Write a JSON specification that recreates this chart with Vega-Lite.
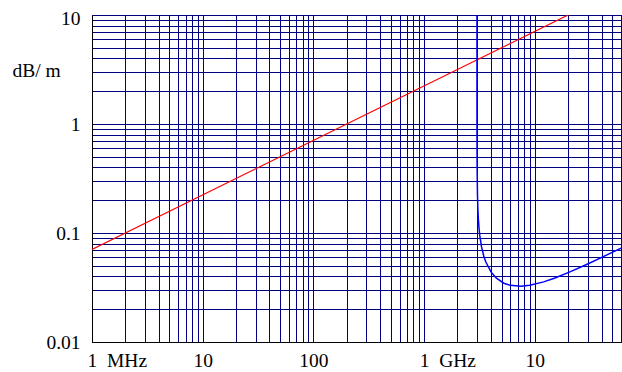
{
  "$schema": "https://vega.github.io/schema/vega-lite/v6.json",
  "width": 529,
  "height": 327,
  "autosize": "none",
  "padding": {"left": 92, "top": 15, "right": 1, "bottom": 30},
  "background": "white",
  "config": {"view": {"stroke": "black", "strokeWidth": 1}, "font": "Times New Roman, Liberation Serif, Times, serif"},
  "datasets": {
    "red": [
      {"f": 1000000, "a": 0.0707},
      {"f": 20000000000, "a": 10}
    ],
    "blue": [
      {"f": 3000000000, "a": 10},
      {"f": 3000090000, "a": 4.18},
      {"f": 3000300000, "a": 2.29},
      {"f": 3000900000, "a": 1.32},
      {"f": 3003000000, "a": 0.724},
      {"f": 3009000000, "a": 0.418},
      {"f": 3030000000, "a": 0.23},
      {"f": 3060000000, "a": 0.163},
      {"f": 3090000000, "a": 0.133},
      {"f": 3135000000, "a": 0.109},
      {"f": 3180000000, "a": 0.095},
      {"f": 3300000000, "a": 0.0745},
      {"f": 3450000000, "a": 0.0618},
      {"f": 3600000000, "a": 0.0544},
      {"f": 4050000000, "a": 0.0434},
      {"f": 4500000000, "a": 0.0385},
      {"f": 5250000000, "a": 0.0346},
      {"f": 6000000000, "a": 0.0331},
      {"f": 7500000000, "a": 0.0324},
      {"f": 9000000000, "a": 0.0331},
      {"f": 12000000000, "a": 0.0356},
      {"f": 15000000000, "a": 0.0385},
      {"f": 21000000000, "a": 0.0442},
      {"f": 30000000000, "a": 0.052},
      {"f": 42000000000, "a": 0.0611},
      {"f": 60000000000, "a": 0.0727}
    ]
  },
  "layer": [
    {
      "data": {"name": "red"},
      "mark": {"type": "line", "color": "#ff0000", "strokeWidth": 1.2, "clip": true},
      "encoding": {
        "x": {
          "field": "f",
          "type": "quantitative",
          "scale": {"type": "log", "domain": [1000000, 60000000000], "nice": false},
          "axis": {
            "title": null,
            "values": [1e6, 2e6, 3e6, 4e6, 5e6, 6e6, 7e6, 8e6, 9e6,
                       1e7, 2e7, 3e7, 4e7, 5e7, 6e7, 7e7, 8e7, 9e7,
                       1e8, 2e8, 3e8, 4e8, 5e8, 6e8, 7e8, 8e8, 9e8,
                       1e9, 2e9, 3e9, 4e9, 5e9, 6e9, 7e9, 8e9, 9e9,
                       1e10, 2e10, 3e10, 4e10, 5e10, 6e10],
            "grid": true,
            "gridColor": "#000080",
            "gridWidth": 1,
            "gridOpacity": 1,
            "ticks": false,
            "tickSize": 0,
            "domainColor": "black",
            "domainWidth": 1,
            "labelFont": "Times New Roman, Liberation Serif, Times, serif",
            "labelFontSize": 19.5,
            "labelColor": "black",
            "labelPadding": 9,
            "labelFlush": false,
            "labelOverlap": false,
            "labelBaseline": "top",
            "labelAlign": {"condition": {"test": "datum.value == 1e6 || datum.value == 1e9", "value": "left"}, "value": "center"},
            "labelOffset": {"condition": {"test": "datum.value == 1e6 || datum.value == 1e9", "value": -5}, "value": 0},
            "labelExpr": "datum.value == 1e6 ? '1\u00a0\u00a0MHz' : datum.value == 1e7 ? '10' : datum.value == 1e8 ? '100' : datum.value == 1e9 ? '1\u00a0\u00a0GHz' : datum.value == 1e10 ? '10' : ''"
          }
        },
        "y": {
          "field": "a",
          "type": "quantitative",
          "scale": {"type": "log", "domain": [0.01, 10], "nice": false},
          "axis": {
            "values": [0.01, 0.02, 0.03, 0.04, 0.05, 0.06, 0.07, 0.08, 0.09,
                       0.1, 0.2, 0.3, 0.4, 0.5, 0.6, 0.7, 0.8, 0.9,
                       1, 2, 3, 4, 5, 6, 7, 8, 9, 10],
            "grid": true,
            "gridColor": "#000080",
            "gridWidth": 1,
            "gridOpacity": 1,
            "ticks": false,
            "tickSize": 0,
            "domainColor": "black",
            "domainWidth": 1,
            "labelFont": "Times New Roman, Liberation Serif, Times, serif",
            "labelFontSize": 19.5,
            "labelColor": "black",
            "labelPadding": 12,
            "labelFlush": false,
            "labelOverlap": false,
            "labelBaseline": "middle",
            "labelOffset": {"condition": {"test": "datum.value == 10", "value": 3}, "value": 0},
            "labelExpr": "datum.value == 10 ? '10' : datum.value == 1 ? '1' : datum.value == 0.1 ? '0.1' : datum.value == 0.01 ? '0.01' : ''",
            "title": "dB/ m",
            "titleAngle": 0,
            "titleAlign": "left",
            "titleBaseline": "alphabetic",
            "titleX": -80,
            "titleY": 61,
            "titleFont": "Times New Roman, Liberation Serif, Times, serif",
            "titleFontSize": 19.5,
            "titleFontWeight": "normal",
            "titleColor": "black"
          }
        }
      }
    },
    {
      "data": {"name": "blue"},
      "mark": {"type": "line", "color": "#0000ff", "strokeWidth": 1.5, "clip": true},
      "encoding": {
        "x": {"field": "f", "type": "quantitative"},
        "y": {"field": "a", "type": "quantitative"}
      }
    }
  ]
}
